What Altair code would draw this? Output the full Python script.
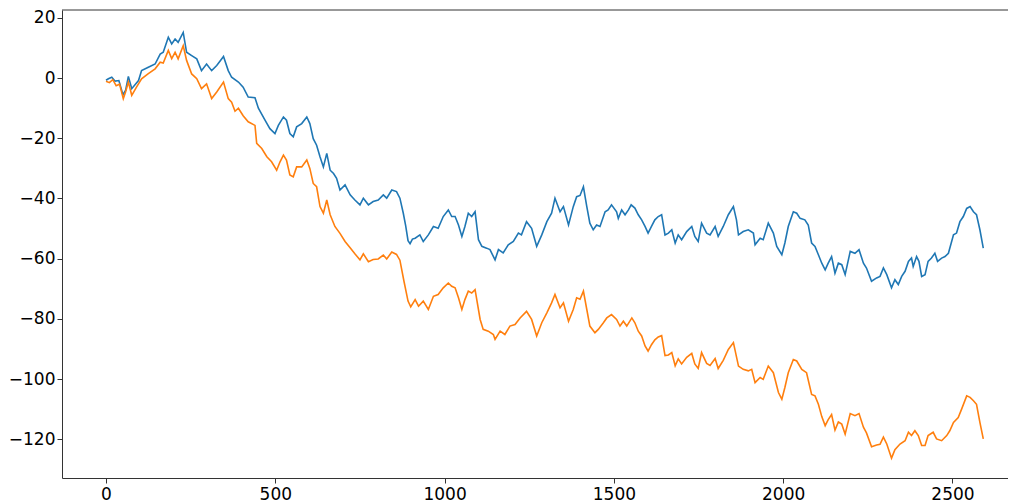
import altair as alt
import pandas as pd

# ---- data ----
blue_x = [0, 7, 17, 27, 38, 50, 58, 66, 76, 96, 105, 125, 145, 160, 169, 184, 194, 204, 213, 228,
          238, 253, 268, 282, 297, 312, 327, 347, 361, 371, 391, 405, 420, 440, 450, 470, 484, 499,
          509, 524, 533, 543, 553, 563, 578, 593, 602, 612, 622, 632, 642, 652, 662, 672, 681, 691,
          706, 721, 735, 750, 760, 775, 789, 804, 819, 829, 844, 858, 868, 878, 885, 892, 898, 905,
          913, 927, 937, 952, 967, 981, 996, 1011, 1021, 1031, 1041, 1051, 1060, 1070, 1080, 1090,
          1100, 1110, 1124, 1134, 1149, 1159, 1173, 1188, 1203, 1218, 1227, 1242, 1257, 1272, 1287,
          1302, 1316, 1326, 1341, 1351, 1366, 1380, 1390, 1400, 1410, 1420, 1429, 1439, 1449, 1459,
          1474, 1483, 1493, 1508, 1513, 1523, 1533, 1543, 1551, 1562, 1572, 1582, 1592, 1601, 1611,
          1621, 1631, 1641, 1651, 1661, 1671, 1681, 1690, 1700, 1715, 1730, 1739, 1749, 1759, 1774,
          1784, 1799, 1808, 1823, 1838, 1853, 1862, 1868, 1882, 1897, 1912, 1917, 1932, 1941, 1956,
          1971, 1981, 1996, 2005, 2015, 2030, 2040, 2050, 2064, 2074, 2084, 2094, 2104, 2114, 2124,
          2133, 2143, 2153, 2163, 2173, 2183, 2198, 2212, 2224, 2237, 2246, 2261, 2276, 2286, 2296,
          2306, 2320, 2330, 2340, 2350, 2360, 2370, 2379, 2384, 2394, 2401, 2409, 2419, 2428, 2438,
          2448, 2456, 2468, 2478, 2488, 2503, 2512, 2522, 2532, 2542, 2552, 2562, 2571, 2581, 2591]
blue_y = [-0.7, -0.2, 0.3, -1, -0.8, -5.5, -4, 0.6, -3.5, -0.8, 2.5, 3.6, 4.7, 8, 8.6, 13.6, 11.4,
          13, 11.9, 15.2, 8.6, 7.5, 6.4, 2.5, 4.7, 2.5, 4.2, 7.2, 2.5, 0.3, -1.3, -3, -6.3, -6.5, -10,
          -14, -16.8, -18.4, -15.7, -12.9, -14, -18.4, -19.5, -16.2, -15.1, -12.9, -15.1, -20.1,
          -22.3, -26.1, -29.5, -25, -30.6, -31.7, -33.3, -37.2, -35.5, -38.8, -40.5, -42.1, -39.9,
          -42.1, -41, -40.5, -38.8, -39.9, -37.2, -37.7, -39.9, -44.9, -49, -54, -55, -53.5, -53.2,
          -52.1, -54.3, -52.1, -49.3, -49.9, -46, -43.8, -46, -46, -48.8, -52.6, -49.3, -44.9, -46,
          -44.4, -53.7, -55.9, -56.5, -57, -60.4, -57, -58.1, -55.4, -54.3, -51.5, -52.1, -47.7,
          -49.9, -55.9, -52.1, -47.7, -44.9, -39.9, -44.4, -42.7, -48.8, -42.7, -39.4, -39, -36.1,
          -42.7, -48.2, -50.4, -48.8, -49.3, -44.4, -43.8, -42.1, -44.4, -46.6, -43.8, -45.4, -43.8,
          -42.1, -43.2, -45.4, -47.1, -49.3, -51.5, -49.3, -47.1, -46, -45.4, -52.1, -51.5, -50.4,
          -54.8, -52.1, -53.7, -51, -49.3, -52.6, -54.3, -48.2, -51.5, -52.1, -49.3, -52.6, -49.3,
          -45.4, -42.7, -47.1, -52.1, -51, -50.4, -51.5, -55.4, -53.2, -53.7, -48.2, -51.5, -55.9,
          -58.7, -54.8, -49.3, -44.4, -44.9, -46.6, -47.1, -48.8, -54.8, -55.9, -58.7, -61.5, -63.7,
          -61.5, -59.3, -64.8, -61.5, -62, -65.3, -57.6, -58.2, -57, -61.5, -63.1, -67.5, -66.4,
          -65.9, -63.1, -65.3, -69.7, -67, -68.6, -65.9, -64.2, -60.9, -59.8, -62.6, -59.3, -60.9,
          -65.9, -65.3, -60.9, -59.8, -58.2, -60.9, -59.8, -59.3, -58.2, -52.1, -51.5, -47.7, -46,
          -43.3, -42.7, -44.4, -45.4, -50.4, -56.5]

orange_x = [0, 10, 20, 30, 40, 51, 58, 66, 76, 90, 105, 125, 145, 160, 169, 184, 194, 204, 213, 228,
            238, 253, 268, 282, 297, 312, 327, 347, 361, 371, 381, 391, 405, 420, 440, 445, 460, 475,
            489, 504, 514, 524, 533, 543, 553, 563, 578, 593, 602, 612, 622, 632, 642, 652, 662, 676,
            691, 706, 721, 735, 750, 760, 775, 789, 804, 819, 829, 844, 858, 868, 880, 892, 900, 913,
            923, 937, 952, 967, 981, 996, 1011, 1021, 1031, 1041, 1051, 1060, 1070, 1080, 1090, 1105,
            1114, 1129, 1144, 1149, 1164, 1178, 1193, 1208, 1223, 1242, 1257, 1272, 1287, 1302, 1316,
            1326, 1341, 1351, 1366, 1380, 1390, 1400, 1410, 1420, 1429, 1444, 1454, 1469, 1479, 1493,
            1508, 1518, 1528, 1538, 1553, 1562, 1572, 1582, 1592, 1601, 1611, 1621, 1631, 1641, 1651,
            1661, 1671, 1681, 1690, 1700, 1715, 1730, 1739, 1749, 1759, 1774, 1784, 1799, 1808, 1823,
            1838, 1853, 1868, 1882, 1897, 1907, 1917, 1932, 1941, 1956, 1971, 1986, 1996, 2005, 2015,
            2030, 2040, 2055, 2069, 2084, 2094, 2104, 2114, 2124, 2133, 2143, 2153, 2163, 2173, 2183,
            2198, 2212, 2224, 2237, 2246, 2261, 2276, 2286, 2296, 2306, 2320, 2330, 2345, 2360, 2370,
            2379, 2389, 2399, 2409, 2419, 2428, 2443, 2453, 2468, 2483, 2492, 2503, 2517, 2527, 2542,
            2552, 2562, 2571, 2581, 2591]
orange_y = [-1, -1.5, -0.5, -2.5, -2, -6.8, -4.5, -1.3, -5.7, -3, -0.2, 1.5, 3.1, 5.3, 5, 9.2, 6.5,
            8.6, 6.4, 10.8, 5.9, 1.4, -0.2, -3.5, -1.9, -6.8, -4.6, -1.3, -6.8, -8, -11, -10, -12.5,
            -14.5, -15.7, -21.7, -23.4, -26.1, -27.8, -30.6, -27.8, -25.6, -27.2, -32.2, -32.8, -29.5,
            -29.5, -27.2, -30, -35, -36.1, -42.7, -44.9, -40.5, -45.4, -49.3, -51.6, -54.3, -56.4,
            -58.4, -60.4, -58.4, -61, -60.3, -60.1, -58.8, -60.1, -57.8, -58.6, -60.5, -67.5, -74.1,
            -76, -73.6, -75.8, -74.1, -76.9, -72.5, -71.9, -69.7, -68.1, -69.2, -69.7, -73, -76.9,
            -73.6, -70.8, -71.4, -70.3, -80.2, -83.5, -84.1, -85.2, -86.8, -84.1, -85.2, -82.4, -81.9,
            -79.7, -77.5, -80.2, -85.7, -81.3, -78, -74.7, -71.9, -76.3, -74.7, -80.8, -76.9, -73,
            -73.5, -70.8, -76.9, -82.4, -84.6, -83.5, -81.3, -79.7, -78.6, -80.2, -82.4, -80.8, -82.4,
            -79.7, -81.3, -84.1, -85.7, -89, -90.7, -88.6, -87, -86, -85.6, -92.2, -92, -91.2, -95.6,
            -93.3, -95, -92.8, -91.5, -95, -96.5, -91.2, -94.8, -95.5, -93.2, -96.5, -93.8, -90.2,
            -87.9, -95.7, -96.8, -97.3, -96.8, -101.2, -99.5, -100.1, -95.7, -97.9, -104.5, -106.7,
            -102.8, -97.9, -93.5, -94, -96.8, -97.9, -105.1, -105.6, -108.4, -112.5, -115.5, -113.5,
            -111.8, -117, -114.3, -115, -118.3, -111.5, -112.2, -111.5, -116, -117.9, -122.5, -121.9,
            -121.7, -119.3, -121.6, -126.3, -123.5, -121.6, -120.5, -117.7, -118.8, -117.2, -118.8,
            -122.1, -122.1, -118.8, -117.7, -119.9, -120.5, -118.8, -117.2, -114.4, -112.8, -110,
            -105.6, -106.1, -107.2, -108.4, -114.4, -119.9]

series_names = ["0", "1"]
series_colors = ["#1f77b4", "#ff7f0e"]
x_ticks = [0, 500, 1000, 1500, 2000, 2500]
y_ticks = [20, 0, -20, -40, -60, -80, -100, -120]

df = pd.concat([
    pd.DataFrame({"x": blue_x, "y": blue_y, "s": series_names[0]}),
    pd.DataFrame({"x": orange_x, "y": orange_y, "s": series_names[1]}),
], ignore_index=True)

axis_common = dict(
    domainColor="#333333", domainWidth=1, tickColor="#333333", tickWidth=1, tickSize=5,
    labelFont="DejaVu Sans", labelFontSize=17, labelColor="black", grid=False, title=None,
    labelOverlap=False, labelFlush=False, format="d",
)

lines = alt.Chart(df).mark_line(strokeWidth=1.6, clip=True).encode(
    x=alt.X("x:Q", scale=alt.Scale(domain=[-130, 2664], nice=False, zero=False),
            axis=alt.Axis(values=x_ticks, labelPadding=3, **axis_common)),
    y=alt.Y("y:Q", scale=alt.Scale(domain=[-132.9, 22.65], nice=False, zero=False),
            axis=alt.Axis(values=y_ticks, labelPadding=2, **axis_common)),
    color=alt.Color("s:N", scale=alt.Scale(domain=series_names, range=series_colors), legend=None),
    order=alt.Order("x:Q"),
)

top = alt.Chart(pd.DataFrame({"a": [0]})).mark_rule(color="#333333", strokeWidth=1).encode(
    y=alt.value(0)
)

chart = alt.layer(lines, top).properties(
    width=946, height=468,
    autosize=alt.AutoSizeParams(type="none"),
    padding={"left": 54, "top": 2, "right": 0, "bottom": 24},
).configure_view(stroke=None)

chart.save("out.html", embed_options={"renderer": "svg", "actions": False})
